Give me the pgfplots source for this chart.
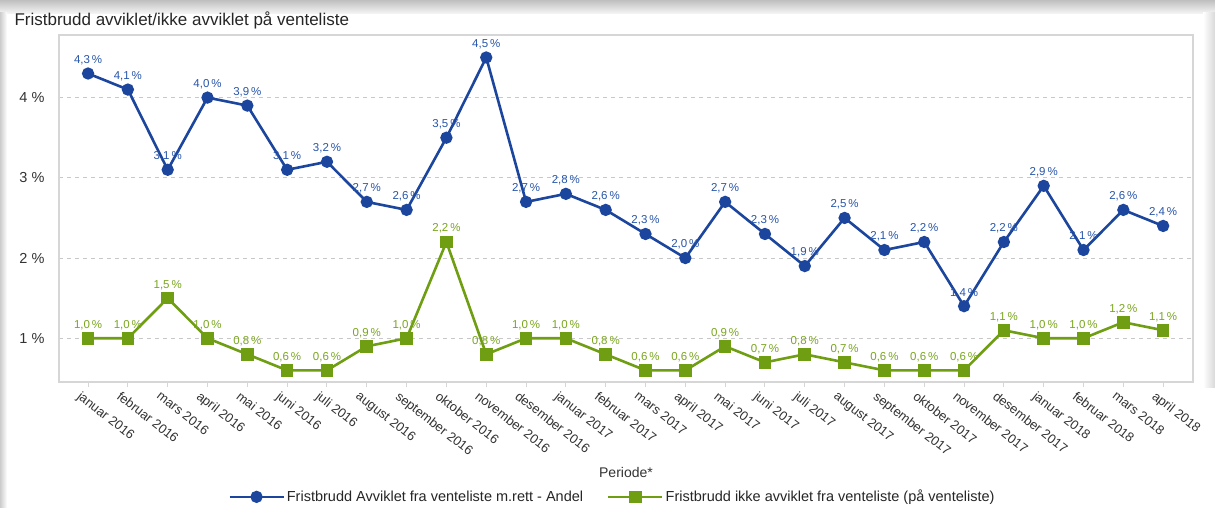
\documentclass[border=0pt]{standalone}
\usepackage{pgfplots}
\pgfplotsset{compat=1.18}
\usepackage{fontspec}
\setmainfont{Liberation Sans}

\definecolor{seriesblue}{RGB}{28,70,158}
\definecolor{seriesgreen}{RGB}{112,158,18}
\definecolor{labelblue}{RGB}{40,86,170}
\definecolor{labelgreen}{RGB}{122,166,30}
\definecolor{framegray}{RGB}{214,214,214}
\definecolor{gridgray}{RGB}{200,200,200}

% Monthly shares of waiting-time breaches (percent)
\pgfplotstableread{
x avviklet ikkeavviklet
0  4.3 1.0
1  4.1 1.0
2  3.1 1.5
3  4.0 1.0
4  3.9 0.8
5  3.1 0.6
6  3.2 0.6
7  2.7 0.9
8  2.6 1.0
9  3.5 2.2
10 4.5 0.8
11 2.7 1.0
12 2.8 1.0
13 2.6 0.8
14 2.3 0.6
15 2.0 0.6
16 2.7 0.9
17 2.3 0.7
18 1.9 0.8
19 2.5 0.7
20 2.1 0.6
21 2.2 0.6
22 1.4 0.6
23 2.2 1.1
24 2.9 1.0
25 2.1 1.0
26 2.6 1.2
27 2.4 1.1
}\fristbrudd

\begin{document}
\begin{tikzpicture}[x=1pt,y=1pt]
\path[use as bounding box] (0,0) rectangle (1215,507);
% panel with soft shadow
\fill[white] (0,0) rectangle (1215,507);
\shade[top color=gray!50, bottom color=gray!6] (0,493) rectangle (1215,507);
\shade[left color=gray!40, right color=white] (0,0) rectangle (7,494);
\shade[left color=white, right color=gray!30] (1203,120) rectangle (1215,494);

\node[anchor=west, font=\fontsize{17}{20}\selectfont, text=black!85] at (11,487)
  {Fristbrudd avviklet/ikke avviklet på venteliste};

\begin{axis}[
  at={(59pt,125pt)}, anchor=south west,
  width=1134pt, height=347pt, scale only axis,
  xmin=-0.73, xmax=27.75, ymin=0.455, ymax=4.78,
  axis line style={framegray, line width=1.2pt},
  xtick={0,...,27},
  xticklabels={januar 2016, februar 2016, mars 2016, april 2016, mai 2016, juni 2016,
    juli 2016, august 2016, september 2016, oktober 2016, november 2016, desember 2016,
    januar 2017, februar 2017, mars 2017, april 2017, mai 2017, juni 2017, juli 2017,
    august 2017, september 2017, oktober 2017, november 2017, desember 2017,
    januar 2018, februar 2018, mars 2018, april 2018},
  xticklabel style={rotate=-38, anchor=north west, xshift=-6pt, yshift=-3pt,
    font=\fontsize{13}{15}\selectfont, text=black!80},
  tick align=outside,
  x tick style={draw=framegray, line width=1pt},
  major tick length=5pt,
  xtick pos=bottom,
  ytick={1,2,3,4},
  y tick style={draw=none},
  yticklabel={\pgfmathprintnumber{\tick} \%},
  yticklabel style={font=\fontsize{14.5}{16}\selectfont, text=black!80, xshift=-6pt},
  /pgf/number format/assume math mode=true,
  ymajorgrids,
  major grid style={gridgray, dash pattern=on 4pt off 4pt, line width=0.9pt},
  clip=false,
  legend columns=2,
  legend style={at={(0.488,-0.331)}, anchor=center, draw=none, fill=none,
    font=\fontsize{14.5}{16}\selectfont, text=black!85,
    /tikz/every even column/.append style={column sep=22pt}},
  legend image code/.code={
    \draw[mark repeat=2, mark phase=2, #1] plot coordinates {(0pt,0pt) (27pt,0pt) (54pt,0pt)};},
  nodes near coords={\pgfmathprintnumber[fixed, fixed zerofill, precision=1, use comma]{\pgfplotspointmeta}\,\%},
  point meta=y,
]
\addplot[seriesblue, line width=2.6pt, mark=*, mark size=4.8pt,
  every node near coord/.append style={anchor=south, yshift=4pt,
    font=\fontsize{11.5}{13}\selectfont, text=labelblue}]
  table[x=x, y=avviklet] {\fristbrudd};
\addlegendentry{Fristbrudd Avviklet fra venteliste m.rett - Andel}
\addplot[seriesgreen, line width=2.6pt, mark=square*, mark size=5pt,
  every node near coord/.append style={anchor=south, yshift=4pt,
    font=\fontsize{11.5}{13}\selectfont, text=labelgreen}]
  table[x=x, y=ikkeavviklet] {\fristbrudd};
\addlegendentry{Fristbrudd ikke avviklet fra venteliste (på venteliste)}

\node[font=\fontsize{14}{16}\selectfont, text=black!80] at (rel axis cs:0.5,-0.26) {Periode*};
\end{axis}
\end{tikzpicture}
\end{document}
